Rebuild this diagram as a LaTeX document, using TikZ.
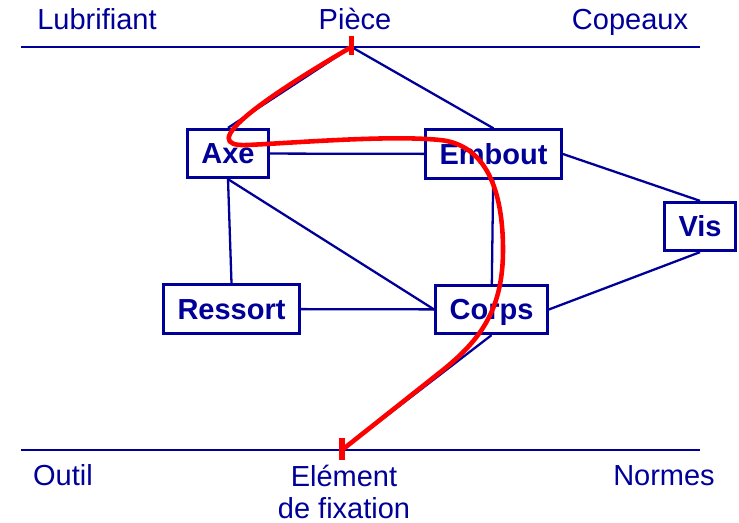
\documentclass[tikz,border=0pt]{standalone}
\usepackage{fontspec}
\setmainfont{Liberation Sans}
\definecolor{navy}{RGB}{0,0,153}
\definecolor{flow}{RGB}{255,0,0}

\begin{document}
\begin{tikzpicture}[
  font=\fontsize{16.5}{18.2}\selectfont,
  comp/.style={draw=navy, line width=1.6pt, text=navy,
               font=\fontsize{16.5}{18.2}\selectfont\bfseries,
               inner xsep=8pt, inner ysep=0pt, minimum height=9.7mm,
               text height=14.8pt, text depth=3pt},
  env/.style={text=navy, inner sep=0pt, anchor=base},
  link/.style={draw=navy, line width=1.3pt},
  limit/.style={draw=navy, line width=.9pt},
  flux/.style={draw=flow, line width=2.6pt},
  tickmark/.style={draw=flow, line width=3.2pt},
]
\useasboundingbox (0,0) rectangle (14.78,-10.46);

\node[env] (lub)    at (1.94,-0.6)  {Lubrifiant};
\node[env] (piece)  at (7.1,-0.6)   {Pièce};
\node[env] (cop)    at (12.6,-0.6)  {Copeaux};
\node[env] (outil)  at (1.26,-9.72) {Outil};
\node[env, anchor=north, align=center] (fixation) at (6.88,-9.3) {Elément\\de fixation};
\node[env] (normes) at (13.28,-9.72) {Normes};

\coordinate (tl) at (0.43,-0.94);
\coordinate (tr) at (14.0,-0.94);
\coordinate (bl) at (0.43,-9.0);
\coordinate (br) at (14.0,-9.0);
\coordinate (p)  at (7.03,-0.94);
\coordinate (f)  at (6.84,-9.0);

\node[comp] (axe)     at (4.56,-3.07) {Axe};
\node[comp] (embout)  at (9.87,-3.08) {Embout};
\node[comp] (vis)     at (14.0,-4.53) {Vis};
\node[comp] (ressort) at (4.63,-6.18) {Ressort};
\node[comp] (corps)   at (9.83,-6.19) {Corps};

\draw[limit] (tl) -- (tr);
\draw[limit] (bl) -- (br);

\draw[link] (p) -- (axe.north);
\draw[link] (p) -- (embout.north);
\draw[link] (axe) -- (embout);
\draw[link] (embout.east) -- (vis.north);
\draw[link] (vis.south) -- (corps.east);
\draw[link] (axe.south) -- (ressort.north);
\draw[link] (axe.south) -- (corps.west);
\draw[link] (ressort) -- (corps);
\draw[link] (embout) -- (corps);
\draw[link] (corps.south) -- (f);

\draw[flux] (p) .. controls (5.2,-2.0) and (3.9,-2.95) .. (4.95,-2.9)
  .. controls (6.0,-2.85) and (7.8,-2.7) .. (8.8,-2.8)
  .. controls (9.6,-2.88) and (10.06,-3.6) .. (10.06,-5.0)
  .. controls (10.06,-6.2) and (9.6,-6.8) .. (8.86,-7.4)
  -- (f);
\draw[tickmark] (p) ++(0,0.22) -- ++(0,-0.38);
\draw[tickmark] (f) ++(0,0.24) -- ++(0,-0.44);
\end{tikzpicture}
\end{document}
